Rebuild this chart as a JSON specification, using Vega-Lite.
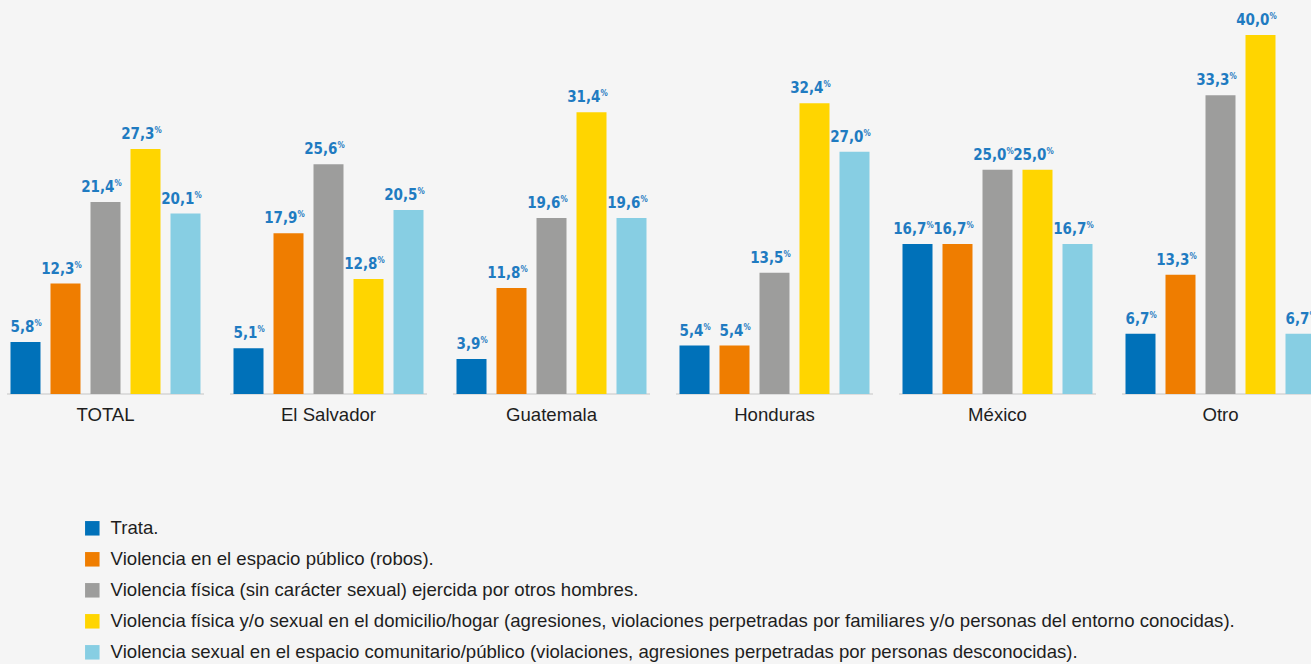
{
  "$schema": "https://vega.github.io/schema/vega-lite/v6.json",
  "autosize": {"type": "none"},
  "width": 1311,
  "height": 359,
  "padding": {"left": 0, "top": 35, "right": 0, "bottom": 270},
  "background": "#f5f5f5",
  "config": {
    "view": {"stroke": null},
    "locale": {"number": {"decimal": ",", "thousands": ".", "grouping": [3], "currency": ["", "€"]}},
    "font": "Liberation Sans"
  },
  "data": {
    "values": [
      {"grupo": "TOTAL", "tipo": "Trata.", "valor": 5.8},
      {"grupo": "TOTAL", "tipo": "Violencia en el espacio público (robos).", "valor": 12.3},
      {"grupo": "TOTAL", "tipo": "Violencia física (sin carácter sexual) ejercida por otros hombres.", "valor": 21.4},
      {"grupo": "TOTAL", "tipo": "Violencia física y/o sexual en el domicilio/hogar (agresiones, violaciones perpetradas por familiares y/o personas del entorno conocidas).", "valor": 27.3},
      {"grupo": "TOTAL", "tipo": "Violencia sexual en el espacio comunitario/público (violaciones, agresiones perpetradas por personas desconocidas).", "valor": 20.1},
      {"grupo": "El Salvador", "tipo": "Trata.", "valor": 5.1},
      {"grupo": "El Salvador", "tipo": "Violencia en el espacio público (robos).", "valor": 17.9},
      {"grupo": "El Salvador", "tipo": "Violencia física (sin carácter sexual) ejercida por otros hombres.", "valor": 25.6},
      {"grupo": "El Salvador", "tipo": "Violencia física y/o sexual en el domicilio/hogar (agresiones, violaciones perpetradas por familiares y/o personas del entorno conocidas).", "valor": 12.8},
      {"grupo": "El Salvador", "tipo": "Violencia sexual en el espacio comunitario/público (violaciones, agresiones perpetradas por personas desconocidas).", "valor": 20.5},
      {"grupo": "Guatemala", "tipo": "Trata.", "valor": 3.9},
      {"grupo": "Guatemala", "tipo": "Violencia en el espacio público (robos).", "valor": 11.8},
      {"grupo": "Guatemala", "tipo": "Violencia física (sin carácter sexual) ejercida por otros hombres.", "valor": 19.6},
      {"grupo": "Guatemala", "tipo": "Violencia física y/o sexual en el domicilio/hogar (agresiones, violaciones perpetradas por familiares y/o personas del entorno conocidas).", "valor": 31.4},
      {"grupo": "Guatemala", "tipo": "Violencia sexual en el espacio comunitario/público (violaciones, agresiones perpetradas por personas desconocidas).", "valor": 19.6},
      {"grupo": "Honduras", "tipo": "Trata.", "valor": 5.4},
      {"grupo": "Honduras", "tipo": "Violencia en el espacio público (robos).", "valor": 5.4},
      {"grupo": "Honduras", "tipo": "Violencia física (sin carácter sexual) ejercida por otros hombres.", "valor": 13.5},
      {"grupo": "Honduras", "tipo": "Violencia física y/o sexual en el domicilio/hogar (agresiones, violaciones perpetradas por familiares y/o personas del entorno conocidas).", "valor": 32.4},
      {"grupo": "Honduras", "tipo": "Violencia sexual en el espacio comunitario/público (violaciones, agresiones perpetradas por personas desconocidas).", "valor": 27.0},
      {"grupo": "México", "tipo": "Trata.", "valor": 16.7},
      {"grupo": "México", "tipo": "Violencia en el espacio público (robos).", "valor": 16.7},
      {"grupo": "México", "tipo": "Violencia física (sin carácter sexual) ejercida por otros hombres.", "valor": 25.0},
      {"grupo": "México", "tipo": "Violencia física y/o sexual en el domicilio/hogar (agresiones, violaciones perpetradas por familiares y/o personas del entorno conocidas).", "valor": 25.0},
      {"grupo": "México", "tipo": "Violencia sexual en el espacio comunitario/público (violaciones, agresiones perpetradas por personas desconocidas).", "valor": 16.7},
      {"grupo": "Otro", "tipo": "Trata.", "valor": 6.7},
      {"grupo": "Otro", "tipo": "Violencia en el espacio público (robos).", "valor": 13.3},
      {"grupo": "Otro", "tipo": "Violencia física (sin carácter sexual) ejercida por otros hombres.", "valor": 33.3},
      {"grupo": "Otro", "tipo": "Violencia física y/o sexual en el domicilio/hogar (agresiones, violaciones perpetradas por familiares y/o personas del entorno conocidas).", "valor": 40.0},
      {"grupo": "Otro", "tipo": "Violencia sexual en el espacio comunitario/público (violaciones, agresiones perpetradas por personas desconocidas).", "valor": 6.7}
    ]
  },
  "encoding": {
    "x": {
      "field": "grupo",
      "type": "nominal",
      "sort": ["TOTAL", "El Salvador", "Guatemala", "Honduras", "México", "Otro"],
      "scale": {"range": [0, 1326], "paddingInner": 0.1166, "paddingOuter": 0.0314},
      "axis": {"title": null, "domain": false, "ticks": false, "labelAngle": 0, "labelFontSize": 18.6, "labelColor": "#1e1e1e", "labelPadding": 11, "labelFont": "Liberation Sans"}
    }
  },
  "layer": [
    {
      "data": {"values": [{"grupo": "TOTAL"}, {"grupo": "El Salvador"}, {"grupo": "Guatemala"}, {"grupo": "Honduras"}, {"grupo": "México"}, {"grupo": "Otro"}]},
      "mark": {"type": "tick", "orient": "horizontal", "thickness": 1.5, "color": "#c8c8c8"},
      "encoding": {
        "y": {"datum": 0, "type": "quantitative", "scale": {"domain": [0, 40], "nice": false}, "axis": null},
        "size": {"value": 197}
      }
    },
    {
      "mark": {"type": "bar"},
      "encoding": {
        "xOffset": {
          "field": "tipo", "type": "nominal",
          "sort": null,
          "scale": {"paddingInner": 0.25, "paddingOuter": 0.0875}
        },
        "y": {"field": "valor", "type": "quantitative", "scale": {"domain": [0, 40], "nice": false}, "axis": null},
        "color": {
          "field": "tipo", "type": "nominal", "sort": null,
          "scale": {"range": ["#0071b9", "#ef7d00", "#9d9d9c", "#ffd500", "#87cee3"]},
          "legend": {
            "title": null,
            "orient": "none",
            "legendX": 83,
            "legendY": 484,
            "direction": "vertical",
            "symbolType": "square",
            "symbolSize": 210,
            "symbolStrokeWidth": 0,
            "symbolOpacity": 1,
            "labelFontSize": 18.6,
            "labelFont": "Liberation Sans",
            "labelColor": "#1e1e1e",
            "labelOffset": 9,
            "labelLimit": 1300,
            "rowPadding": 12,
            "padding": 0
          }
        }
      }
    },
    {
      "mark": {"type": "text", "align": "right", "baseline": "alphabetic", "dx": 9, "dy": -10, "font": "DejaVu Sans Condensed", "fontWeight": "bold", "fontSize": 15, "color": "#1f7bc1"},
      "encoding": {
        "xOffset": {"field": "tipo", "type": "nominal", "sort": null, "scale": {"paddingInner": 0.25, "paddingOuter": 0.0875}},
        "y": {"field": "valor", "type": "quantitative", "scale": {"domain": [0, 40], "nice": false}, "axis": null},
        "text": {"field": "valor", "type": "quantitative", "format": ".1f"}
      }
    },
    {
      "mark": {"type": "text", "align": "left", "baseline": "alphabetic", "dx": 9, "dy": -16, "font": "DejaVu Sans Condensed", "fontWeight": "bold", "fontSize": 8, "color": "#1f7bc1"},
      "encoding": {
        "xOffset": {"field": "tipo", "type": "nominal", "sort": null, "scale": {"paddingInner": 0.25, "paddingOuter": 0.0875}},
        "y": {"field": "valor", "type": "quantitative", "scale": {"domain": [0, 40], "nice": false}, "axis": null},
        "text": {"value": "%"}
      }
    }
  ]
}
